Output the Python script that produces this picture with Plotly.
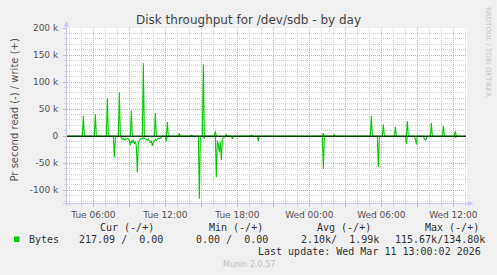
import plotly.graph_objects as go
import pandas as pd

# ---- data (bytes per second, read in kB/s from the picture) ----
write_times = ["2026-03-10 05:10", "2026-03-10 06:10", "2026-03-10 07:10", "2026-03-10 08:10",
               "2026-03-10 09:10", "2026-03-10 10:10", "2026-03-10 11:10", "2026-03-10 12:10",
               "2026-03-10 13:10", "2026-03-10 14:10", "2026-03-10 15:10", "2026-03-10 16:10",
               "2026-03-10 17:05", "2026-03-10 19:10", "2026-03-11 01:10", "2026-03-11 02:05",
               "2026-03-11 05:10", "2026-03-11 06:10", "2026-03-11 07:10", "2026-03-11 08:10",
               "2026-03-11 10:10", "2026-03-11 11:10", "2026-03-11 12:10"]
write_kB = [37, 41, 70, 81, 47, 134.8, 43, 26, 5, 2, 133, 9, 3, 2, 5, 3, 37, 22, 17, 28, 25, 19, 9]

read_times = ["2026-03-10 07:45",
              "2026-03-10 08:25", "2026-03-10 08:30", "2026-03-10 08:35", "2026-03-10 08:40",
              "2026-03-10 08:45", "2026-03-10 08:50", "2026-03-10 08:55", "2026-03-10 09:00",
              "2026-03-10 09:05", "2026-03-10 09:10", "2026-03-10 09:15", "2026-03-10 09:20",
              "2026-03-10 09:25", "2026-03-10 09:30", "2026-03-10 09:35", "2026-03-10 09:40",
              "2026-03-10 09:45", "2026-03-10 09:50", "2026-03-10 09:55", "2026-03-10 10:00",
              "2026-03-10 10:05", "2026-03-10 10:10", "2026-03-10 10:15", "2026-03-10 10:20",
              "2026-03-10 10:25", "2026-03-10 10:30", "2026-03-10 10:35", "2026-03-10 10:40",
              "2026-03-10 10:45", "2026-03-10 10:50", "2026-03-10 10:55", "2026-03-10 11:00",
              "2026-03-10 11:05", "2026-03-10 11:10", "2026-03-10 11:15", "2026-03-10 11:20",
              "2026-03-10 11:25", "2026-03-10 11:30", "2026-03-10 11:35", "2026-03-10 11:40",
              "2026-03-10 12:05", "2026-03-10 14:10", "2026-03-10 14:50", "2026-03-10 15:15",
              "2026-03-10 16:15", "2026-03-10 16:20", "2026-03-10 16:25", "2026-03-10 16:30",
              "2026-03-10 16:35", "2026-03-10 16:40", "2026-03-10 16:45", "2026-03-10 16:50",
              "2026-03-10 17:35", "2026-03-10 19:45",
              "2026-03-11 01:10", "2026-03-11 04:20", "2026-03-11 05:45", "2026-03-11 08:05",
              "2026-03-11 08:50", "2026-03-11 08:55", "2026-03-11 09:35", "2026-03-11 09:40",
              "2026-03-11 09:45", "2026-03-11 12:10", "2026-03-11 13:00"]
read_kB = [39,
           7, 4, 6, 7, 5, 4, 5, 8, 17, 8, 12, 6, 14, 10, 18, 67, 12, 7, 5, 4, 5, 3, 4, 4,
           5, 7, 5, 9, 12, 8, 18, 12, 10, 6, 8, 6, 4, 5, 4, 2,
           9, 1, 115.67, 3,
           76, 8, 15, 29, 10, 44, 5, 3,
           5, 9,
           60, 1, 57, 14, 5, 15, 5, 7, 5, 2, 0.217]

y_tickvals = [-100000, -50000, 0, 50000, 100000, 150000, 200000]
y_ticktext = ["-100 k", "-50 k", "0", "50 k", "100 k", "150 k", "200 k"]
x_tickvals = pd.date_range("2026-03-10 06:00", "2026-03-11 12:00", freq="3h")
x_ticktext = [t.strftime("%a %H:%M") if t.hour % 6 == 0 else "" for t in x_tickvals]

legend_head = ["Cur (-/+)", "Min (-/+)", "Avg (-/+)", "Max (-/+)"]
legend_vals = ["217.09 /  0.00", "0.00 /  0.00", "2.10k/  1.99k", "115.67k/134.80k"]

# ---- build 5-minute series ----
grid = pd.date_range("2026-03-10 03:50", "2026-03-11 13:00", freq="5min")
w = pd.Series(0.0, index=grid)
w.loc[pd.to_datetime(write_times)] = [v * 1000 for v in write_kB]
r = pd.Series(0.0, index=grid)
r.loc[pd.to_datetime(read_times)] = [-v * 1000 for v in read_kB]

GREEN = "#00CC00"
fig = go.Figure()
fig.add_trace(go.Scatter(x=grid, y=r.values, mode="lines", line=dict(color=GREEN, width=1.1),
                         showlegend=False, hoverinfo="skip"))
fig.add_trace(go.Scatter(x=grid, y=w.values, mode="lines", line=dict(color=GREEN, width=1.1),
                         showlegend=False, hoverinfo="skip"))

L, R, T, B = 67, 467, 28, 203
def fx(px):
    return (px - L) / (R - L)
def fy(py):
    return (B - py) / (B - T)

MAJ = "#e8a8a8"
MIN = "#d4d4d4"
AX = "#c8c8f0"
TXT = "#555555"

fig.update_layout(
    width=497, height=275,
    margin=dict(l=L, r=497 - R, t=T, b=275 - B),
    paper_bgcolor="#F0F0F0", plot_bgcolor="white",
    font=dict(family="DejaVu Sans", size=9, color=TXT),
    xaxis=dict(type="date", range=["2026-03-10 03:48:20", "2026-03-11 13:08:20"],
               tickmode="array", tickvals=x_tickvals, ticktext=x_ticktext,
               showgrid=True, gridcolor=MAJ, griddash="1px,1px", gridwidth=1,
               ticks="outside", ticklen=3, tickcolor=MAJ, showline=False, zeroline=False,
               tickfont=dict(size=9, color=TXT),
               minor=dict(dtick=3600000, showgrid=True, gridcolor=MIN, griddash="1px,1px",
                          ticks="outside", ticklen=2, tickcolor=MIN)),
    yaxis=dict(range=[-123500, 200000], tickmode="array", tickvals=y_tickvals, ticktext=y_ticktext,
               showgrid=True, gridcolor=MAJ, griddash="1px,1px", gridwidth=1,
               ticks="outside", ticklen=3, tickcolor=MAJ, showline=False, zeroline=False,
               ticklabelstandoff=3, tickfont=dict(size=9, color=TXT),
               minor=dict(dtick=10000, showgrid=True, gridcolor=MIN, griddash="1px,1px",
                          ticks="outside", ticklen=2, tickcolor=MIN)),
)

shapes = [
    # zero line
    dict(type="line", xref="paper", yref="y", x0=0, x1=fx(466), y0=0, y1=0,
         line=dict(color="black", width=1), layer="above"),
    # axes
    dict(type="line", xref="paper", yref="paper", x0=fx(66.5), x1=fx(66.5), y0=fy(206), y1=fy(24),
         line=dict(color=AX, width=1), layer="above"),
    dict(type="line", xref="paper", yref="paper", x0=fx(63), x1=fx(470), y0=fy(203.5), y1=fy(203.5),
         line=dict(color=AX, width=1), layer="above"),
    dict(type="path", xref="paper", yref="paper",
         path=f"M {fx(64)} {fy(26.5)} L {fx(69)} {fy(26.5)} L {fx(66.5)} {fy(21.5)} Z",
         fillcolor=AX, line=dict(color=AX, width=0.5), layer="above"),
    dict(type="path", xref="paper", yref="paper",
         path=f"M {fx(468)} {fy(201)} L {fx(468)} {fy(206)} L {fx(473)} {fy(203.5)} Z",
         fillcolor=AX, line=dict(color=AX, width=0.5), layer="above"),
    # legend colour box
    dict(type="rect", xref="paper", yref="paper", x0=fx(14), x1=fx(19.5), y0=fy(242), y1=fy(236.5),
         fillcolor=GREEN, line=dict(width=0)),
]
fig.update_layout(shapes=shapes)

ann = []
ann.append(dict(text="Disk throughput for /dev/sdb - by day", x=fx(248.5), y=fy(19.5),
                font=dict(size=12, color="#444444")))
ann.append(dict(text="Pr second read (-) / write (+)", x=fx(14), y=fy(110.5), textangle=-90,
                font=dict(size=10, color=TXT)))
ann.append(dict(text="RRDTOOL / TOBI OETIKER", x=fx(488), y=fy(5), yanchor="top", textangle=90,
                font=dict(size=7, color="#c4c4c4")))
ann.append(dict(text="Munin 2.0.57", x=fx(248.5), y=fy(264), font=dict(size=8, color="#c0c0c0")))

MONO = "DejaVu Sans Mono"
for txt, px in zip(legend_head, [98.3, 206.7, 315, 422.7]):
    ann.append(dict(text=txt, x=fx(px), y=fy(227.7), xanchor="left",
                    font=dict(family=MONO, size=10, color="#333333")))
ann.append(dict(text="Bytes", x=fx(26.7), y=fy(239.3), xanchor="left",
                font=dict(family=MONO, size=10, color="#333333")))
for txt, px in zip(legend_vals, [77.3, 194, 299.3, 392.7]):
    ann.append(dict(text=txt.replace(" ", "&nbsp;"), x=fx(px), y=fy(239.3), xanchor="left",
                    font=dict(family=MONO, size=10, color="#333333")))
ann.append(dict(text="Last update: Wed Mar 11 13:00:02 2026".replace(" ", "&nbsp;"), x=fx(483), y=fy(251.7),
                xanchor="right", font=dict(family=MONO, size=10, color="#333333")))

for a in ann:
    a.setdefault("xref", "paper")
    a.setdefault("yref", "paper")
    a.setdefault("showarrow", False)
    a.setdefault("xanchor", "center")
    a.setdefault("yanchor", "middle")
fig.update_layout(annotations=ann)

fig.write_html("out.html")
